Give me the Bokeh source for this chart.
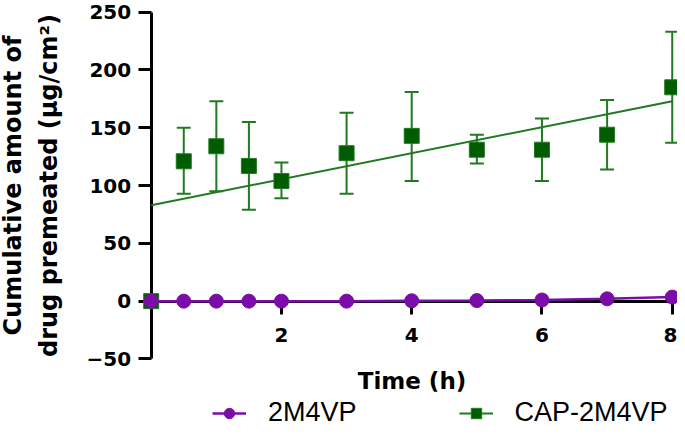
from bokeh.plotting import figure
from bokeh.models import (Range1d, LinearAxis, FixedTicker, Legend, LegendItem,
                          ColumnDataSource, Whisker, TeeHead)
from bokeh.embed import file_html
from bokeh.resources import INLINE

# ---- data ----
time_h = [0, 0.5, 1, 1.5, 2, 3, 4, 5, 6, 7, 8]
m4vp = [0, 0, 0, 0, 0, 0, 0.3, 0.5, 1, 2, 3.5]
cap_mean = [0, 121, 134, 117, 104, 128, 143, 131, 131, 144, 185]
cap_upper = [0, 150, 173, 155, 120, 163, 181, 144, 158, 174, 233]
cap_lower = [0, 93, 95, 79, 89, 93, 104, 119, 104, 114, 137]
fit_x = [0, 8]
fit_y = [83, 173]
x_ticks = [2, 4, 6, 8]
y_ticks = [-50, 0, 50, 100, 150, 200, 250]

GREEN = "#005c00"
GREEN_L = "#217a21"
PURPLE = "#7a0ca8"

# frame covers the whole canvas so that the axes drawn at x=0 / y=0 are not clipped
p = figure(frame_width=677, frame_height=430,
           x_range=Range1d(-2.314, 8.081), y_range=Range1d(-111.9, 260.1),
           output_backend="svg", toolbar_location=None,
           x_axis_location=None, y_axis_location=None,
           min_border_left=0, min_border_right=0, min_border_top=0,
           min_border_bottom=0)
p.outline_line_color = None
p.xgrid.visible = False
p.ygrid.visible = False

# ---- axes ----
xa = LinearAxis(fixed_location=0, bounds=(0, 8), ticker=FixedTicker(ticks=x_ticks))
ya = LinearAxis(fixed_location=0, bounds=(-50, 250), ticker=FixedTicker(ticks=y_ticks))
for ax in (xa, ya):
    ax.axis_line_width = 3
    ax.major_tick_line_width = 3
    ax.major_tick_out = 13
    ax.major_tick_in = 0
    ax.minor_tick_out = 0
    ax.minor_tick_in = 0
    ax.major_label_text_font = "DejaVu Sans"
    ax.major_label_text_font_style = "bold"
    ax.major_label_text_font_size = "20px"
    ax.major_label_text_color = "black"
    ax.axis_label_text_font = "DejaVu Sans"
    ax.axis_label_text_font_style = "bold"
    ax.axis_label_text_color = "black"
    ax.level = "underlay"
xa.axis_label = "Time (h)"
xa.axis_label_text_font_size = "23px"
xa.major_label_standoff = 14
xa.axis_label_standoff = 22
ya.axis_label = "Cumulative amount of\ndrug premeated (µg/cm²)"
ya.axis_label_text_font_size = "24px"
ya.major_label_standoff = 7
ya.axis_label_standoff = 21
ya.axis_label_text_line_height = 1.3
p.add_layout(xa, "below")
p.add_layout(ya, "left")

# ---- CAP-2M4VP ----
src = ColumnDataSource(dict(t=time_h[1:], up=cap_upper[1:], lo=cap_lower[1:]))
wh = Whisker(base="t", upper="up", lower="lo", source=src, dimension="height",
             line_color=GREEN_L, line_width=2,
             upper_head=TeeHead(size=14, line_color=GREEN_L, line_width=2),
             lower_head=TeeHead(size=14, line_color=GREEN_L, line_width=2))
wh.level = "underlay"
p.add_layout(wh)
fit_r = p.line(fit_x, fit_y, line_color=GREEN_L, line_width=2)
sq_r = p.scatter(time_h, cap_mean, marker="square", size=15,
                 fill_color=GREEN, line_color=GREEN_L, line_width=1)

# ---- 2M4VP ----
l_r = p.line(time_h, m4vp, line_color=PURPLE, line_width=2.5)
c_r = p.scatter(time_h, m4vp, marker="circle", size=14,
                fill_color=PURPLE, line_color=PURPLE)

legend = Legend(items=[LegendItem(label="2M4VP", renderers=[l_r, c_r]),
                       LegendItem(label="CAP-2M4VP", renderers=[fit_r, sq_r])],
                orientation="horizontal", location=(212, 2),
                glyph_width=34, glyph_height=26, label_standoff=22, spacing=102,
                padding=0, margin=0, border_line_color=None,
                background_fill_alpha=0,
                label_text_font="Liberation Sans", label_text_font_size="27px",
                label_text_color="black")
p.add_layout(legend, "center")

open("out.html", "w").write(file_html(p, INLINE))
